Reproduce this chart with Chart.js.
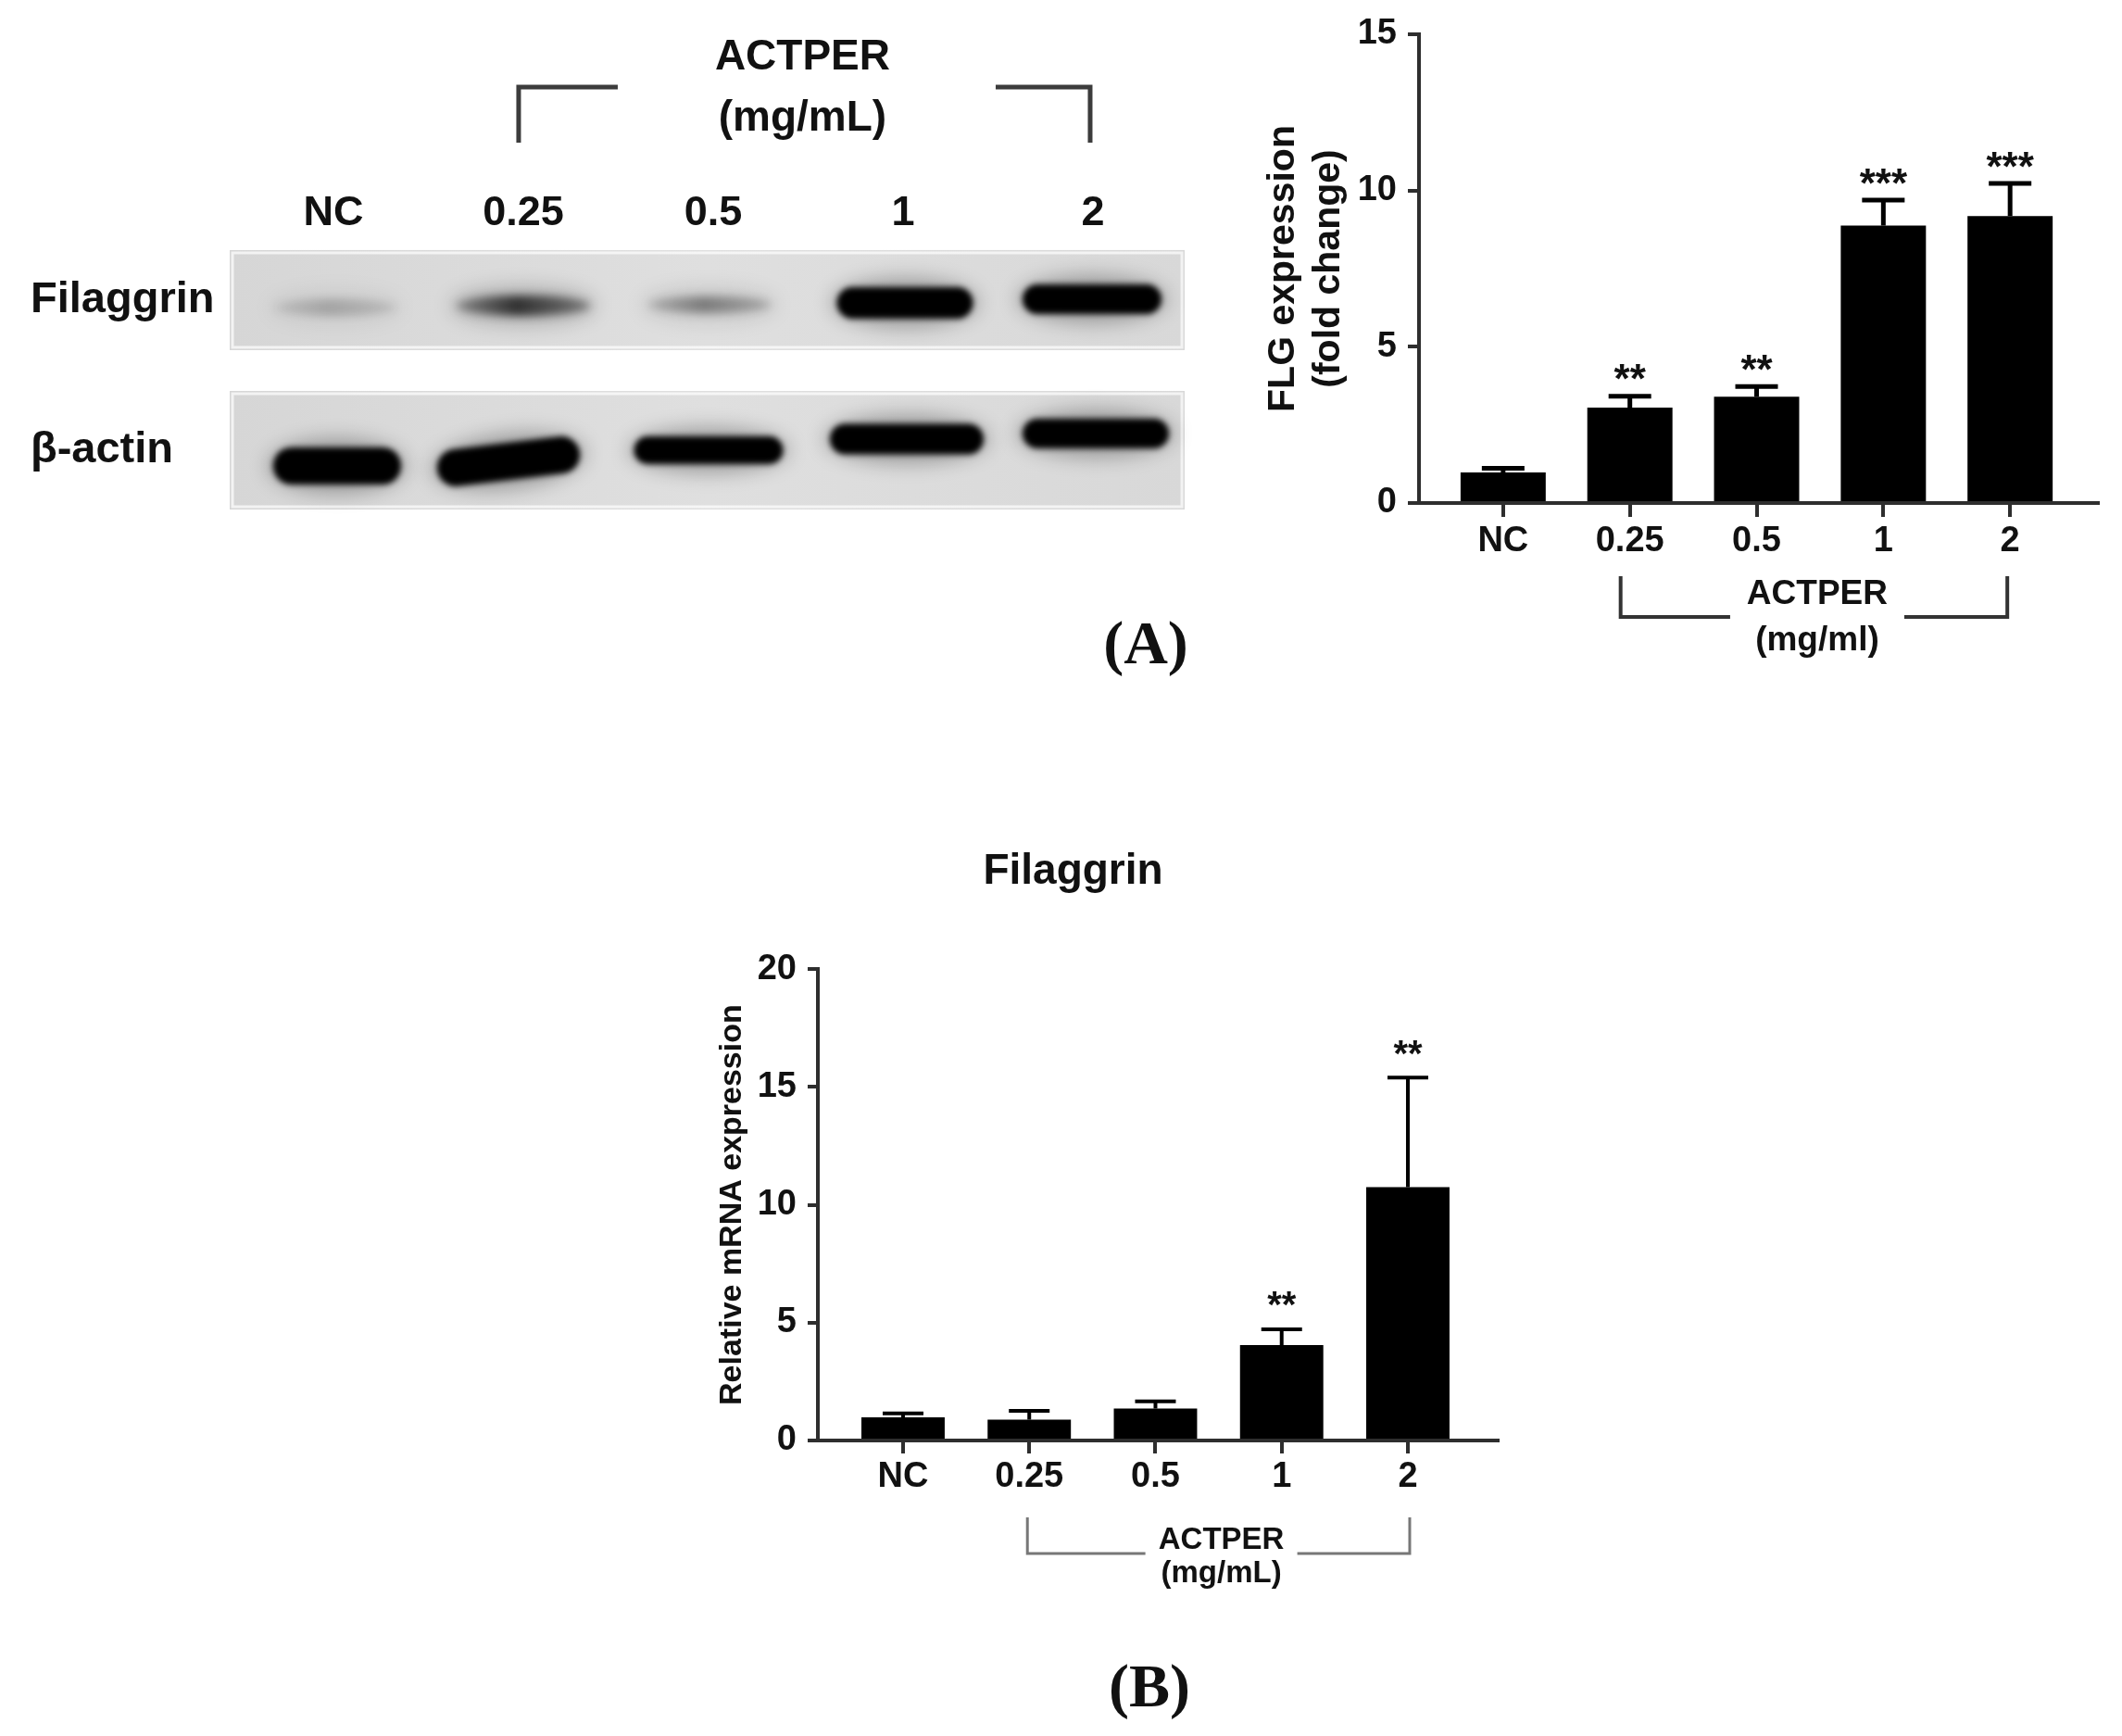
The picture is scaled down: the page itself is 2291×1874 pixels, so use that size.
<!DOCTYPE html>
<html>
<head>
<meta charset="utf-8">
<title>ACTPER - filaggrin</title>
<script src="https://cdn.jsdelivr.net/npm/chart.js@4.4.1/dist/chart.umd.min.js"></script>
<style>
  html, body { margin: 0; padding: 0; background: #fff; }
  body { position: relative; width: 2291px; height: 1874px; overflow: hidden; }
  canvas { position: absolute; }
  .panel { position: absolute; font: bold 66px 'Liberation Serif', 'Times New Roman', serif; line-height: 66px; color: #111; transform: translateX(-50%); white-space: nowrap; }
</style>
</head>
<body>
<canvas id="blot" width="1300" height="600" style="left:0;top:0"></canvas>
<canvas id="flg" width="991" height="760" style="left:1300px;top:0"></canvas>
<canvas id="mrna" width="1100" height="880" style="left:700px;top:880px"></canvas>
<div class="panel" style="left:1237px;top:661px">(A)</div>
<div class="panel" style="left:1241px;top:1787px">(B)</div>
<script>
Chart.defaults.font.family = "'Liberation Sans', Arial, sans-serif";
Chart.defaults.font.weight = 'bold';
Chart.defaults.color = '#111';
Chart.defaults.animation = false;
Chart.defaults.plugins.legend.display = false;
Chart.defaults.plugins.tooltip.enabled = false;

// lanes / categories
const lanes = ['NC', '0.25', '0.5', '1', '2'];
const blotRows = ['Filaggrin', 'β-actin'];

// western blot band density (0 = none, 1 = saturated)
const filaggrinBand = [0.2, 0.72, 0.38, 1, 1];
const actinBand = [1, 1, 1, 1, 1];

// (A) FLG protein, fold change
const flgMean = [0.98, 3.05, 3.40, 8.88, 9.18];
const flgErr = [0.13, 0.37, 0.33, 0.81, 1.05];
const flgStars = ['', '**', '**', '***', '***'];
const flgTicks = [0, 5, 10, 15];

// (B) relative mRNA expression
const mrnaMean = [0.98, 0.88, 1.36, 4.05, 10.75];
const mrnaErr = [0.17, 0.38, 0.30, 0.67, 4.65];
const mrnaStars = ['', '', '', '**', '**'];
const mrnaTicks = [0, 5, 10, 15, 20];

const AXIS = '#2e2e2e';

// band look on the membrane (shift from lane/row centre, size, tilt)
const bandShape = [
  [{dx: 2, dy: 8, w: 132, h: 18}, {dx: 0, dy: 6, w: 145, h: 22}, {dx: -4, dy: 5, w: 133, h: 18},
   {dx: 2, dy: 3, w: 147, h: 34}, {dx: -1, dy: -1, w: 150, h: 32}],
  [{dx: 4, dy: 17, w: 138, h: 40}, {dx: -16, dy: 12, w: 155, h: 40, tilt: -0.12}, {dx: -5, dy: 0, w: 161, h: 30},
   {dx: 4, dy: -12, w: 166, h: 33}, {dx: 3, dy: -18, w: 158, h: 32}]
];
const membraneHalf = [54, 64];

function drawBand(ctx, cx, cy, s, d) {
  ctx.save();
  ctx.translate(cx, cy);
  if (s.tilt) ctx.rotate(s.tilt);
  ctx.filter = 'blur(10px)';
  ctx.fillStyle = `rgba(0,0,0,${0.28 * d})`;
  ctx.beginPath();
  ctx.ellipse(0, 0, s.w / 2 + 6, s.h / 2 + 10, 0, 0, Math.PI * 2);
  ctx.fill();
  if (d >= 0.8) {
    ctx.filter = 'blur(3px)';
    ctx.fillStyle = '#000';
    ctx.beginPath();
    ctx.roundRect(-s.w / 2, -s.h / 2, s.w, s.h, s.h / 2);
    ctx.fill();
  } else {
    ctx.filter = 'blur(5px)';
    const g = ctx.createLinearGradient(-s.w / 2, 0, s.w / 2, 0);
    g.addColorStop(0, `rgba(0,0,0,${0.35 * d})`);
    g.addColorStop(0.45, `rgba(0,0,0,${d})`);
    g.addColorStop(1, `rgba(0,0,0,${0.45 * d})`);
    ctx.fillStyle = g;
    ctx.beginPath();
    ctx.ellipse(0, 0, s.w / 2, s.h / 2, 0, 0, Math.PI * 2);
    ctx.fill();
  }
  ctx.restore();
}

const blotPlugin = {
  id: 'blot',
  beforeDatasetsDraw(chart) {
    const {ctx, chartArea: a, scales: {x, y}} = chart;
    ctx.save();
    blotRows.forEach((name, r) => {
      const yc = y.getPixelForValue(r);
      const top = yc - membraneHalf[r], h = membraneHalf[r] * 2;
      const g = ctx.createLinearGradient(a.left, 0, a.right, 0);
      g.addColorStop(0, '#d6d6d6');
      g.addColorStop(0.5, '#dfdfdf');
      g.addColorStop(1, '#d8d8d8');
      ctx.fillStyle = g;
      ctx.fillRect(a.left, top, a.right - a.left, h);
      ctx.strokeStyle = 'rgba(255,255,255,0.7)';
      ctx.lineWidth = 3;
      ctx.strokeRect(a.left + 3, top + 3, a.right - a.left - 6, h - 6);
    });
    chart.data.datasets.forEach((ds, r) => {
      ds.density.forEach((d, i) => {
        const s = bandShape[r][i];
        drawBand(ctx, x.getPixelForValue(i) + s.dx, y.getPixelForValue(r) + s.dy, s, d);
      });
    });
    ctx.restore();
  },
  afterDraw(chart) {
    const {ctx, chartArea: a, scales: {x}} = chart;
    const xl = x.getPixelForValue(1), xr = x.getPixelForValue(4), xm = (xl + xr) / 2;
    ctx.save();
    ctx.fillStyle = '#111';
    ctx.font = "bold 46px 'Liberation Sans'";
    ctx.textAlign = 'center';
    ctx.textBaseline = 'middle';
    ctx.fillText('ACTPER', xm - 6, a.top - 208);
    ctx.fillText('(mg/mL)', xm - 6, a.top - 142);
    ctx.strokeStyle = '#3c3c3c';
    ctx.lineWidth = 5;
    ctx.beginPath();
    ctx.moveTo(xl - 5, a.top - 116);
    ctx.lineTo(xl - 5, a.top - 176);
    ctx.lineTo(xl + 102, a.top - 176);
    ctx.moveTo(xr - 105, a.top - 176);
    ctx.lineTo(xr - 3, a.top - 176);
    ctx.lineTo(xr - 3, a.top - 116);
    ctx.stroke();
    ctx.restore();
  }
};

new Chart(document.getElementById('blot'), {
  type: 'scatter',
  data: {
    datasets: [
      {label: blotRows[0], data: lanes.map((_, i) => ({x: i, y: 0})), density: filaggrinBand},
      {label: blotRows[1], data: lanes.map((_, i) => ({x: i, y: 1})), density: actinBand}
    ]
  },
  options: {
    responsive: false,
    elements: {point: {radius: 0, hoverRadius: 0}},
    layout: {padding: {left: 33, top: 0, right: 21, bottom: 50}},
    scales: {
      x: {
        type: 'linear', position: 'top', min: -0.546, max: 4.483,
        afterBuildTicks: s => { s.ticks = lanes.map((_, i) => ({value: i})); },
        afterFit: s => { s.height = 270; },
        ticks: {callback: v => lanes[v], font: {size: 45}, padding: 12, maxRotation: 0, autoSkip: false},
        grid: {display: false, drawTicks: false},
        border: {display: false}
      },
      y: {
        type: 'linear', reverse: true, min: -0.333, max: 1.395,
        afterBuildTicks: s => { s.ticks = blotRows.map((_, i) => ({value: i})); },
        afterFit: s => { s.width = 215; },
        ticks: {callback: v => blotRows[v], font: {size: 47}, crossAlign: 'far', padding: 0},
        grid: {display: false, drawTicks: false},
        border: {display: false}
      }
    }
  },
  plugins: [blotPlugin]
});

// error bars, significance stars and the ACTPER bracket under the axis
function annotate(means, errs, stars, o) {
  return {
    id: 'annot',
    afterDatasetsDraw(chart) {
      const {ctx, scales: {y}} = chart;
      const bars = chart.getDatasetMeta(0).data;
      ctx.save();
      ctx.strokeStyle = '#000';
      ctx.lineWidth = o.errWidth;
      means.forEach((m, i) => {
        const px = bars[i].x, y0 = y.getPixelForValue(m), y1 = y.getPixelForValue(m + errs[i]);
        ctx.beginPath();
        ctx.moveTo(px, y0);
        ctx.lineTo(px, y1);
        ctx.moveTo(px - o.cap / 2, y1);
        ctx.lineTo(px + o.cap / 2, y1);
        ctx.stroke();
        if (stars[i]) {
          ctx.font = `bold ${o.starSize}px 'Liberation Sans'`;
          ctx.fillStyle = '#111';
          ctx.textAlign = 'center';
          ctx.textBaseline = 'alphabetic';
          ctx.fillText(stars[i], px, y1 - o.starGap + 0.585 * o.starSize);
        }
      });
      ctx.restore();
    },
    afterDraw(chart) {
      const {ctx, chartArea: a, scales: {x}} = chart;
      const xl = x.getPixelForValue(1) + o.dxL, xr = x.getPixelForValue(4) + o.dxR;
      const xm = (x.getPixelForValue(1) + x.getPixelForValue(4)) / 2 + o.dxText;
      const yt = a.bottom + o.yTop, yb = a.bottom + o.yBot;
      ctx.save();
      ctx.strokeStyle = o.bracketColor;
      ctx.lineWidth = o.bracketWidth;
      ctx.beginPath();
      ctx.moveTo(xl, yt);
      ctx.lineTo(xl, yb);
      ctx.lineTo(xm - o.gap, yb);
      ctx.moveTo(xm + o.gap, yb);
      ctx.lineTo(xr, yb);
      ctx.lineTo(xr, yt);
      ctx.stroke();
      ctx.fillStyle = '#111';
      ctx.font = `bold ${o.textSize}px 'Liberation Sans'`;
      ctx.textAlign = 'center';
      ctx.textBaseline = 'middle';
      ctx.fillText('ACTPER', xm, a.bottom + o.y1);
      ctx.fillText(o.unit, xm, a.bottom + o.y2);
      ctx.restore();
    }
  };
}

function barConfig(means, ticks, yMax, c) {
  return {
    type: 'bar',
    data: {
      datasets: [{
        data: means.map((v, i) => ({x: i, y: v})),
        backgroundColor: '#000', borderWidth: 0,
        barPercentage: c.barPct, categoryPercentage: 1
      }]
    },
    options: {
      responsive: false,
      layout: {padding: c.padding},
      plugins: {title: c.title || {display: false}},
      scales: {
        x: {
          type: 'linear', min: c.xMin, max: c.xMax, offset: false,
          afterBuildTicks: s => { s.ticks = lanes.map((_, i) => ({value: i})); },
          afterFit: s => { s.height = 100; },
          ticks: {callback: v => lanes[v], font: {size: 38}, padding: c.xPad, maxRotation: 0, autoSkip: false},
          grid: {drawOnChartArea: false, tickLength: c.xTick, lineWidth: 4, color: AXIS, offset: false},
          border: {color: AXIS, width: 4}
        },
        y: {
          min: 0, max: yMax,
          afterBuildTicks: s => { s.ticks = ticks.map(v => ({value: v})); },
          afterFit: s => { s.width = c.yWidth; },
          ticks: {font: {size: 38}, padding: 12},
          grid: {drawOnChartArea: false, tickLength: c.yTick, lineWidth: 4, color: AXIS},
          border: {color: AXIS, width: 4},
          title: {display: true, text: c.yTitle, font: {size: c.yTitleSize}, padding: {top: c.yTitlePad, bottom: 0}}
        }
      }
    }
  };
}

const flgCfg = barConfig(flgMean, flgTicks, 15, {
  barPct: 0.672, padding: {left: 0, top: 37, right: 26, bottom: 117},
  xMin: -0.664, xMax: 4.693, xPad: 4, xTick: 15, yTick: 12, yWidth: 232,
  yTitle: ['FLG expression', '(fold change)'], yTitleSize: 41, yTitlePad: 61
});
flgCfg.plugins = [annotate(flgMean, flgErr, flgStars, {
  errWidth: 5, cap: 46, starSize: 44, starGap: 29,
  dxL: -10, dxR: -3, dxText: -3, yTop: 79, yBot: 123, gap: 94,
  bracketColor: '#333', bracketWidth: 4, textSize: 37, y1: 99, y2: 149, unit: '(mg/ml)'
})];
new Chart(document.getElementById('flg'), flgCfg);

const mrnaCfg = barConfig(mrnaMean, mrnaTicks, 20, {
  barPct: 0.66, padding: {left: 0, top: 0, right: 183, bottom: 105},
  xMin: -0.675, xMax: 4.712, xPad: 3, xTick: 14, yTick: 11, yWidth: 183,
  yTitle: 'Relative mRNA expression', yTitleSize: 34, yTitlePad: 70,
  title: {display: true, text: 'Filaggrin', font: {size: 46}, color: '#111', padding: {top: 34, bottom: 77}}
});
mrnaCfg.plugins = [annotate(mrnaMean, mrnaErr, mrnaStars, {
  errWidth: 4, cap: 44, starSize: 40, starGap: 36,
  dxL: -2, dxR: 2, dxText: 3, yTop: 83, yBot: 122, gap: 82,
  bracketColor: '#777', bracketWidth: 3, textSize: 33, y1: 108, y2: 144, unit: '(mg/mL)'
})];
new Chart(document.getElementById('mrna'), mrnaCfg);
</script>
</body>
</html>
